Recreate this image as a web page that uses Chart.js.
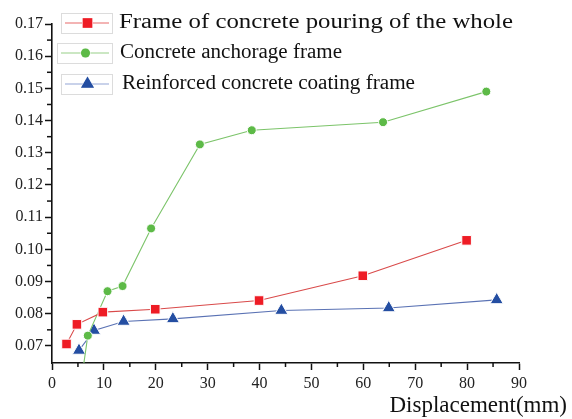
<!DOCTYPE html>
<html>
<head>
<meta charset="utf-8">
<script src="https://cdn.jsdelivr.net/npm/chart.js@4.4.1/dist/chart.umd.min.js"></script>
<style>
  html, body { margin: 0; padding: 0; background: #fff; }
  canvas { display: block; }
</style>
</head>
<body>
<canvas id="dispChart" width="572" height="419"></canvas>
<script>
// values
const seriesNames = ['Frame of concrete pouring of the whole', 'Concrete anchorage frame', 'Reinforced concrete coating frame'];
const wholeX = [2.8, 4.8, 9.8, 19.9, 39.9, 59.9, 79.9];
const wholeY = [0.0706, 0.0767, 0.0805, 0.0814, 0.0841, 0.0918, 0.1028];
const anchorX = [5.2, 6.9, 10.7, 13.6, 19.1, 28.5, 38.5, 63.8, 83.7];
const anchorY = [0.054, 0.0732, 0.0870, 0.0886, 0.1065, 0.1326, 0.1370, 0.1395, 0.1490];
const coatX = [5.2, 8.1, 13.8, 23.3, 44.2, 64.9, 85.7];
const coatY = [0.0686, 0.0748, 0.0776, 0.0784, 0.0810, 0.0818, 0.0843];
const xTicks = [0, 10, 20, 30, 40, 50, 60, 70, 80, 90];
const yTicks = [0.07, 0.08, 0.09, 0.10, 0.11, 0.12, 0.13, 0.14, 0.15, 0.16, 0.17];
const xTitle = 'Displacement(mm)';

const pts = (xs, ys) => xs.map((x, i) => ({ x: x, y: ys[i] }));
const serif = '"Liberation Serif", "DejaVu Serif", serif';

const styles = [
  { line: '#d94a4a', fill: '#ee1c25', shape: 'rect', r: 6.8, legendLine: '#e86a6a' },
  { line: '#7cc46a', fill: '#5dba47', shape: 'circle', r: 4.5, legendLine: '#98d088' },
  { line: '#5a72b4', fill: '#244ea2', shape: 'triangle', r: 7.6, legendLine: '#93a5d6' }
];

const data = [pts(wholeX, wholeY), pts(anchorX, anchorY), pts(coatX, coatY)];

// minor ticks between the majors + frame legend + axis title
const extras = {
  id: 'extras',
  afterDraw(chart) {
    const c = chart.ctx;
    const xs = chart.scales.x, ys = chart.scales.y;
    c.save();
    c.strokeStyle = '#111';
    c.lineWidth = 1.5;
    for (let i = 0; i < xTicks.length - 1; i++) {
      const px = xs.getPixelForValue((xTicks[i] + xTicks[i + 1]) / 2);
      c.beginPath(); c.moveTo(px, xs.top); c.lineTo(px, xs.top + 4); c.stroke();
    }
    for (let i = 0; i < yTicks.length - 1; i++) {
      const py = ys.getPixelForValue((yTicks[i] + yTicks[i + 1]) / 2);
      c.beginPath(); c.moveTo(ys.right, py); c.lineTo(ys.right - 5, py); c.stroke();
    }

    // legend
    const rows = [
      { bx: 61, by: 13, tx: 119, ty: 23, w: 394 },
      { bx: 57, by: 43, tx: 120, ty: 53, w: 222 },
      { bx: 61, by: 74, tx: 122, ty: 84, w: 293 }
    ];
    rows.forEach((r, i) => {
      const s = styles[i];
      c.strokeStyle = '#dcdcdc';
      c.lineWidth = 1;
      c.strokeRect(r.bx + 0.5, r.by + 0.5, 112 - r.bx, 20);
      c.strokeStyle = s.legendLine;
      c.lineWidth = 1.2;
      c.beginPath(); c.moveTo(r.bx + 4, r.ty); c.lineTo(109, r.ty); c.stroke();
      c.fillStyle = s.fill;
      c.strokeStyle = '#fff';
      c.lineWidth = 1;
      Chart.helpers.drawPoint(c, { pointStyle: s.shape, radius: s.r, borderWidth: 1 }, (r.bx + 112) / 2 + 1, r.ty);
      c.fill();
      c.fillStyle = '#111';
      c.font = '20px ' + serif;
      c.textBaseline = 'middle';
      c.textAlign = 'left';
      const m = c.measureText(seriesNames[i]).width;
      c.save();
      c.translate(r.tx, r.ty);
      c.scale(r.w / m, 1);
      c.fillText(seriesNames[i], 0, 0);
      c.restore();
    });

    c.font = '23px ' + serif;
    c.fillStyle = '#111';
    c.textAlign = 'right';
    c.textBaseline = 'middle';
    c.fillText(xTitle, 567, 406);
    c.restore();
  }
};

new Chart(document.getElementById('dispChart').getContext('2d'), {
  type: 'line',
  data: {
    datasets: data.map((d, i) => ({
      label: seriesNames[i],
      data: d,
      borderColor: styles[i].line,
      borderWidth: 1.1,
      backgroundColor: styles[i].fill,
      pointBackgroundColor: styles[i].fill,
      pointBorderColor: '#fff',
      pointBorderWidth: 1,
      pointStyle: styles[i].shape,
      pointRadius: styles[i].r,
      pointHoverRadius: styles[i].r,
      tension: 0,
      fill: false
    }))
  },
  options: {
    responsive: false,
    animation: false,
    events: [],
    layout: { padding: { top: 24, right: 53, left: 0, bottom: 0 } },
    plugins: {
      legend: { display: false },
      tooltip: { enabled: false }
    },
    scales: {
      x: {
        type: 'linear',
        min: 0,
        max: 90,
        afterBuildTicks: s => { s.ticks = xTicks.map(v => ({ value: v })); },
        afterFit: s => { s.height = 56; },
        border: { color: '#111', width: 1.6 },
        grid: { drawOnChartArea: false, drawTicks: true, tickLength: 7, tickWidth: 1.5, tickColor: '#111' },
        ticks: { color: '#222', font: { family: serif, size: 16 }, padding: 4, maxRotation: 0 }
      },
      y: {
        type: 'linear',
        min: 0.0647,
        max: 0.17,
        afterBuildTicks: s => { s.ticks = yTicks.map(v => ({ value: v })); },
        afterFit: s => { s.width = 52; },
        border: { color: '#111', width: 1.6 },
        grid: { drawOnChartArea: false, drawTicks: true, tickLength: 7, tickWidth: 1.5, tickColor: '#111' },
        ticks: { color: '#222', font: { family: serif, size: 16 }, padding: 2, callback: v => v.toFixed(2) }
      }
    }
  },
  plugins: [extras]
});
</script>
</body>
</html>
